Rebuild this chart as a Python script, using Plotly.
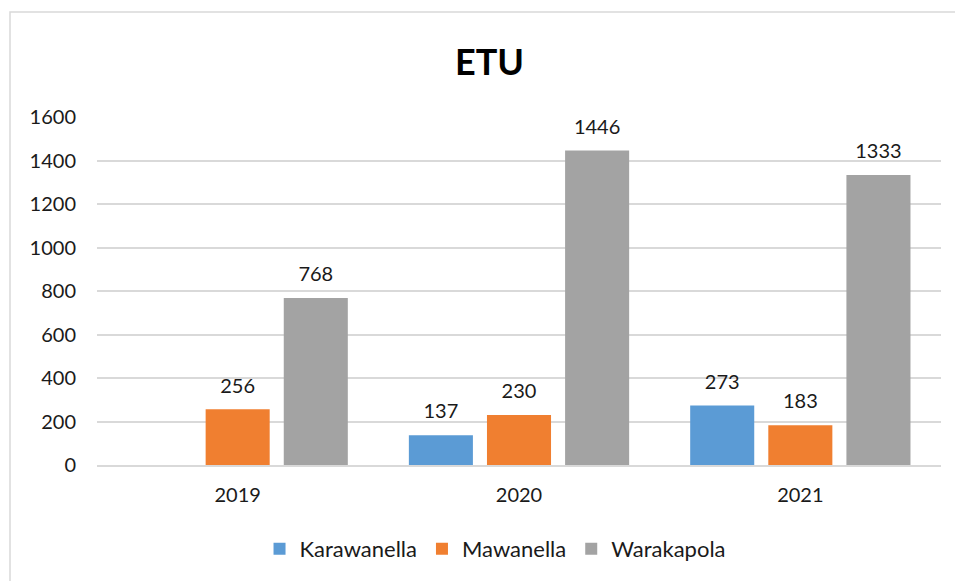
import plotly.graph_objects as go

categories = ["2019", "2020", "2021"]
karawanella = [None, 137, 273]
mawanella = [256, 230, 183]
warakapola = [768, 1446, 1333]
series_names = ["Karawanella", "Mawanella", "Warakapola"]
colors = ["#5B9BD5", "#F07F30", "#A3A3A3"]
y_ticks = [0, 200, 400, 600, 800, 1000, 1200, 1400, 1600]

FONT = "Lato, Calibri, sans-serif"
OFF = 8  # page body margin

fig = go.Figure()
for name, vals, col in zip(series_names, [karawanella, mawanella, warakapola], colors):
    fig.add_trace(go.Bar(
        x=categories, y=vals, name=name,
        marker=dict(color=col, line=dict(width=0)),
        text=[("" if v is None else f"<span style='font-size:20px'>{v}</span><br> ") for v in vals],
        textposition="outside",
        constraintext="none",
        textfont=dict(size=9, color="#1a1a1a", family=FONT),
        cliponaxis=False,
    ))

fig.update_layout(
    width=963, height=581,
    paper_bgcolor="white", plot_bgcolor="white",
    margin=dict(l=97 - OFF, r=22 + OFF, t=117 - OFF, b=116 + OFF),
    barmode="group", bargap=0.167, bargroupgap=0.18,
    title=dict(text="<b>ETU</b>", x=(489.5 - OFF)/963, xanchor="center", y=1-(62 - OFF)/581, yanchor="middle",
               font=dict(size=36, color="black", family=FONT)),
    font=dict(family=FONT, color="#1a1a1a", size=20),
    legend=dict(orientation="h", x=0.4716, xanchor="center", y=-0.241, yanchor="middle",
                font=dict(size=22, color="#1a1a1a", family=FONT), traceorder="normal",
                itemwidth=30),
    showlegend=True,
)
fig.update_yaxes(range=[0, 1600], tickvals=y_ticks, showgrid=True, gridcolor="#d9d9d9", gridwidth=1.5,
                 zeroline=False, showline=False, ticks="", ticklabelstandoff=20,
                 tickfont=dict(size=20, color="#1a1a1a", family=FONT))
fig.update_xaxes(showline=True, linecolor="#d9d9d9", linewidth=1.5, ticks="", ticklabelstandoff=11,
                 tickfont=dict(size=20, color="#1a1a1a", family=FONT))

fig.add_shape(type="rect", xref="paper", yref="paper",
              x0=(10-97)/844, x1=1.2, y0=-0.6, y1=(465-12)/348,
              line=dict(color="#d9d9d9", width=1.5), fillcolor="rgba(0,0,0,0)", layer="below")

fig.write_html("out.html")
